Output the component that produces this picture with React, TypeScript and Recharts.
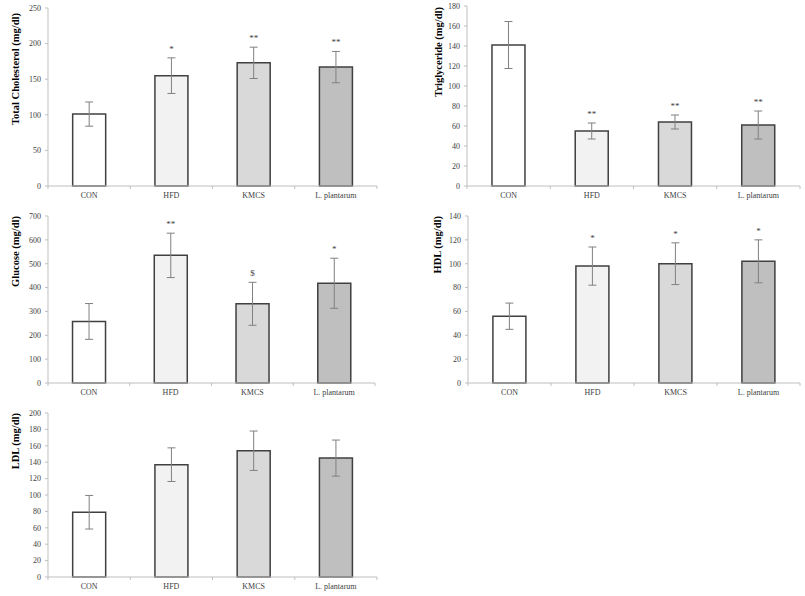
import React from "react";
import { BarChart, Bar, XAxis, YAxis, ErrorBar, Cell, LabelList } from "recharts";

const groups = ["CON", "HFD", "KMCS", "L. plantarum"];
const fills = ["#ffffff", "#f2f2f2", "#d9d9d9", "#bfbfbf"];

const tcMean = [101, 155, 173, 167];
const tcErr = [17, 25, 22, 22];
const tcSig = ["", "*", "**", "**"];
const tcTicks = [0, 50, 100, 150, 200, 250];

const tgMean = [141, 55, 64, 61];
const tgErr = [23.5, 8, 7, 14];
const tgSig = ["", "**", "**", "**"];
const tgTicks = [0, 20, 40, 60, 80, 100, 120, 140, 160, 180];

const gluMean = [258, 535, 332, 418];
const gluErr = [75, 93, 90, 105];
const gluSig = ["", "**", "$", "*"];
const gluTicks = [0, 100, 200, 300, 400, 500, 600, 700];

const hdlMean = [56, 98, 100, 102];
const hdlErr = [11, 16, 17.5, 18];
const hdlSig = ["", "*", "*", "*"];
const hdlTicks = [0, 20, 40, 60, 80, 100, 120, 140];

const ldlMean = [79, 137, 154, 145];
const ldlErr = [20.5, 20.5, 24, 22];
const ldlSig = ["", "", "", ""];
const ldlTicks = [0, 20, 40, 60, 80, 100, 120, 140, 160, 180, 200];

const SERIF = "'Liberation Serif', 'Times New Roman', serif";
const AXIS = "#bfbfbf";
const TEXT = "#404040";

type PanelProps = {
  left: number;
  top: number;
  width: number;
  height: number;
  mt: number;
  mr: number;
  yWidth: number;
  xHeight: number;
  ticks: number[];
  label: string;
  labelX: number;
  labelDy?: number;
  mean: number[];
  err: number[];
  sig: string[];
};

function Panel(p: PanelProps) {
  const data = groups.map((g, i) => ({ name: g, mean: p.mean[i], err: p.err[i], sig: p.sig[i] }));
  const plotW = p.width - p.yWidth - p.mr;
  const band = plotW / groups.length;
  const top = p.ticks[p.ticks.length - 1];

  // category labels, plus little tick marks between the categories
  const xTick = (t: any) => {
    const { x, y, payload, index } = t;
    return (
      <g>
        <line x1={x - band / 2} x2={x - band / 2} y1={y} y2={y + 3} stroke={AXIS} />
        {index === groups.length - 1 && (
          <line x1={x + band / 2} x2={x + band / 2} y1={y} y2={y + 3} stroke={AXIS} />
        )}
        <text x={x} y={y + 12} textAnchor="middle" fontSize={8} fontFamily={SERIF} fill={TEXT}>
          {payload.value}
        </text>
      </g>
    );
  };

  // significance marks sit just above the error bar cap
  const sigLabel = (s: any) => {
    const { x, y, width, height, index } = s;
    const v = data[index]?.sig;
    if (!v) return null;
    const errTop = y - (data[index].err * height) / data[index].mean;
    return (
      <text x={x + width / 2} y={errTop - 6} textAnchor="middle" fontSize={9} fontFamily={SERIF} fill="#404040">
        {v}
      </text>
    );
  };

  const yLabel = (l: any) => {
    const vb = l.viewBox || {};
    const y0 = (vb.y ?? p.mt) + (p.labelDy ?? 0);
    return (
      <text
        x={p.labelX}
        y={y0}
        transform={`rotate(-90, ${p.labelX}, ${y0})`}
        textAnchor="end"
        dominantBaseline="central"
        fontSize={10.5}
        fontWeight="bold"
        fontFamily={SERIF}
        fill="#000"
      >
        {p.label}
      </text>
    );
  };

  return (
    <div style={{ position: "absolute", left: p.left, top: p.top }}>
      <BarChart
        width={p.width}
        height={p.height}
        data={data}
        margin={{ top: p.mt, right: p.mr, left: 0, bottom: 0 }}
        barCategoryGap="30%"
      >
        <XAxis
          dataKey="name"
          height={p.xHeight}
          tickSize={0}
          tickMargin={0}
          tickLine={false}
          axisLine={{ stroke: AXIS }}
          tick={xTick}
          interval={0}
        />
        <YAxis
          width={p.yWidth}
          domain={[0, top]}
          ticks={p.ticks}
          interval={0}
          tickSize={3}
          tickMargin={4}
          axisLine={{ stroke: AXIS }}
          tickLine={{ stroke: AXIS }}
          tick={{ fontSize: 8, fontFamily: SERIF, fill: TEXT }}
          label={{ content: yLabel }}
        />
        <Bar dataKey="mean" stroke="#404040" strokeWidth={1.5} isAnimationActive={false}>
          {data.map((d, i) => (
            <Cell key={d.name} fill={fills[i]} />
          ))}
          <ErrorBar dataKey="err" width={4} stroke="#808080" strokeWidth={1} />
          <LabelList dataKey="sig" content={sigLabel} />
        </Bar>
      </BarChart>
    </div>
  );
}

export default function App() {
  return (
    <div style={{ position: "absolute", left: 0, top: 0, width: 805, height: 596, background: "#fff" }}>
      <Panel left={0} top={0} width={400} height={200} mt={8} mr={23} yWidth={48} xHeight={14}
        ticks={tcTicks} label="Total Cholesterol (mg/dl)" labelX={15} labelDy={5} mean={tcMean} err={tcErr} sig={tcSig} />
      <Panel left={400} top={0} width={405} height={200} mt={6} mr={5} yWidth={67} xHeight={14}
        ticks={tgTicks} label="Triglyceride  (mg/dl)" labelX={38} labelDy={1} mean={tgMean} err={tgErr} sig={tgSig} />
      <Panel left={0} top={200} width={400} height={200} mt={16} mr={25} yWidth={48} xHeight={17}
        ticks={gluTicks} label="Glucose (mg/dl)" labelX={15} mean={gluMean} err={gluErr} sig={gluSig} />
      <Panel left={400} top={200} width={405} height={200} mt={16} mr={5} yWidth={68} xHeight={17}
        ticks={hdlTicks} label="HDL (mg/dl)" labelX={37} mean={hdlMean} err={hdlErr} sig={hdlSig} />
      <Panel left={0} top={400} width={400} height={196} mt={13} mr={23} yWidth={48} xHeight={19}
        ticks={ldlTicks} label="LDL (mg/dl)" labelX={15} mean={ldlMean} err={ldlErr} sig={ldlSig} />
    </div>
  );
}
